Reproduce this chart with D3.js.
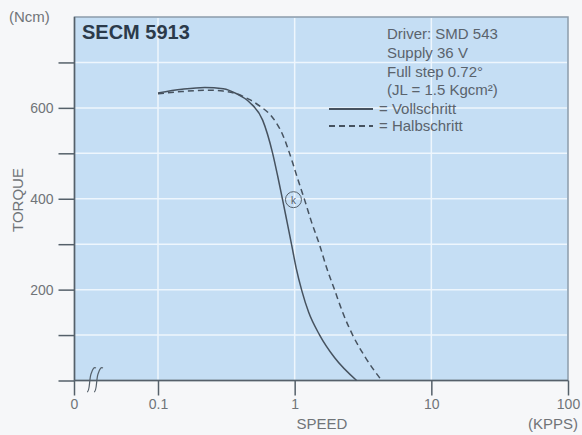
<!DOCTYPE html>
<html>
<head>
<meta charset="utf-8">
<script src="https://cdn.jsdelivr.net/npm/d3@7"></script>
<style>
  body { margin: 0; background: #f6f7f9; }
  svg { display: block; font-family: "Liberation Sans", Arial, sans-serif; }
  .axis text { fill: #707478; font-size: 14px; }
  .axis path, .axis line { stroke: #55606a; stroke-width: 1.5; }
  .grid line { stroke: #eef6fd; stroke-width: 1.5; }
  .info { fill: #5a636c; font-size: 15px; }
  .title { fill: #707478; font-size: 15px; }
</style>
</head>
<body>
<script>

// speed in KPPS, torque in Ncm
var vollSpeed  = [0.1, 0.15, 0.22, 0.3, 0.376, 0.469, 0.583, 0.690, 0.751, 0.817, 0.881, 0.951, 1.025, 1.125, 1.266, 1.523, 1.962, 2.84];
var vollTorque = [633, 641,  645,  642, 631,   612,   573,   500,   450,   397,   348,   298,   248,   199,   150,   100,   50,    0];

var halbSpeed  = [0.1, 0.15, 0.23, 0.3, 0.376, 0.469, 0.574, 0.667, 0.738, 0.817, 0.889, 0.967, 1.052, 1.184, 1.331, 1.523, 1.714, 1.962, 2.244, 2.657, 3.306, 4.33];
var halbTorque = [631, 636,  639,  637, 631,   618,   601,   584,   566,   541,   512,   479,   444,   397,   348,   298,   248,   199,   150,   100,   50,    0];

var speedTicks  = [0.1, 1, 10, 100];
var speedLabels = ["0.1", "1", "10", "100"];
var torqueTicks = [0, 100, 200, 300, 400, 500, 600, 700];
var torqueLabels = {200: "200", 400: "400", 600: "600"};

var infoLines = ["Driver: SMD 543", "Supply 36 V", "Full step 0.72\u00b0", "(JL = 1.5 Kgcm\u00b2)"];
var legendItems = [
  {name: "= Vollschritt", dash: null},
  {name: "= Halbschritt", dash: "6,4"}
];

var W = 582, H = 435;
var pLeft = 74.5, pRight = 568, pTop = 17, pBottom = 380.5;

var svg = d3.select("body").append("svg")
    .attr("width", W)
    .attr("height", H);

var x = d3.scaleLog()
    .domain([0.1, 100])
    .range([158, pRight]);

var y = d3.scaleLinear()
    .domain([0, 800])
    .range([pBottom, pTop]);

// plot background
svg.append("rect")
    .attr("x", pLeft)
    .attr("y", pTop)
    .attr("width", pRight - pLeft)
    .attr("height", pBottom - pTop)
    .attr("fill", "#c5def4")
    .attr("stroke", "#8c9cab")
    .attr("stroke-width", 1.5);

// grid
var grid = svg.append("g").attr("class", "grid");
grid.selectAll(".h")
    .data(torqueTicks.filter(function(d) { return d > 0; }))
  .enter().append("line")
    .attr("x1", pLeft + 1).attr("x2", pRight - 1)
    .attr("y1", function(d) { return y(d); })
    .attr("y2", function(d) { return y(d); });
grid.selectAll(".v")
    .data(speedTicks.slice(0, 3))
  .enter().append("line")
    .attr("y1", pTop + 1).attr("y2", pBottom - 1)
    .attr("x1", function(d) { return x(d); })
    .attr("x2", function(d) { return x(d); });

// axes
var yAxis = d3.axisLeft(y)
    .tickValues(torqueTicks)
    .tickSize(16)
    .tickPadding(5)
    .tickFormat(function(d) { return torqueLabels[d] || ""; });

svg.append("g")
    .attr("class", "axis")
    .attr("transform", "translate(" + pLeft + ",0)")
    .call(yAxis)
    .call(function(g) { g.select(".domain").remove(); });

svg.append("line")
    .attr("x1", pLeft).attr("x2", pLeft)
    .attr("y1", pTop).attr("y2", pBottom)
    .attr("stroke", "#55606a").attr("stroke-width", 1.5);

var xAxis = d3.axisBottom(x)
    .tickValues(speedTicks)
    .tickSize(15)
    .tickPadding(4)
    .tickFormat(function(d, i) { return speedLabels[i]; });

var xg = svg.append("g")
    .attr("class", "axis")
    .attr("transform", "translate(0," + pBottom + ")")
    .call(xAxis)
    .call(function(g) { g.select(".domain").remove(); });

svg.append("line")
    .attr("x1", pLeft).attr("x2", pRight)
    .attr("y1", pBottom).attr("y2", pBottom)
    .attr("stroke", "#55606a").attr("stroke-width", 1.5);

// the "0" tick left of the axis break
var zero = xg.append("g").attr("class", "tick")
    .attr("transform", "translate(" + pLeft + ",0)");
zero.append("line").attr("y2", 15);
zero.append("text").attr("y", 19).attr("dy", "0.71em")
    .attr("text-anchor", "middle").text("0");

// break marks
var brk = svg.append("g")
    .attr("fill", "none")
    .attr("stroke", "#55606a")
    .attr("stroke-width", 1.2);
[89, 96].forEach(function(bx) {
  brk.append("path")
    .attr("d", "M" + (bx - 2) + ",392 C" + (bx + 1) + ",392 " + bx + ",380 " + (bx + 2) + ",374 S" + (bx + 5) + ",367 " + (bx + 7) + ",368");
});

// axis titles
svg.append("text").attr("class", "title")
    .attr("x", 9).attr("y", 22)
    .text("(Ncm)");

svg.append("text").attr("class", "title")
    .attr("transform", "translate(23,200) rotate(-90)")
    .attr("text-anchor", "middle")
    .text("TORQUE");

svg.append("text").attr("class", "title")
    .attr("x", 322).attr("y", 429)
    .attr("text-anchor", "middle")
    .text("SPEED");

svg.append("text").attr("class", "title")
    .attr("x", 578).attr("y", 429)
    .attr("text-anchor", "end")
    .text("(KPPS)");

// curves
var line = d3.line()
    .x(function(d) { return x(d[0]); })
    .y(function(d) { return y(d[1]); })
    .curve(d3.curveMonotoneX);

svg.append("path")
    .datum(d3.zip(vollSpeed, vollTorque))
    .attr("fill", "none")
    .attr("stroke", "#46525f")
    .attr("stroke-width", 1.5)
    .attr("d", line);

svg.append("path")
    .datum(d3.zip(halbSpeed, halbTorque))
    .attr("fill", "none")
    .attr("stroke", "#46525f")
    .attr("stroke-width", 1.5)
    .attr("stroke-dasharray", "6,4")
    .attr("d", line);

// K marker
svg.append("circle")
    .attr("cx", x(0.98)).attr("cy", y(398))
    .attr("r", 8)
    .attr("fill", "none")
    .attr("stroke", "#55606a")
    .attr("stroke-width", 1);
svg.append("text")
    .attr("x", x(0.98)).attr("y", y(398) + 4)
    .attr("text-anchor", "middle")
    .attr("fill", "#55606a").style("font-size", "10px")
    .text("k");

// title
svg.append("text")
    .attr("x", 82).attr("y", 39)
    .attr("fill", "#2b3a4a")
    .style("font-size", "20px")
    .style("font-weight", "bold")
    .text("SECM 5913");

// info block
svg.selectAll(".info")
    .data(infoLines)
  .enter().append("text")
    .attr("class", "info")
    .attr("x", 387)
    .attr("y", function(d, i) { return 39 + i * 18.8; })
    .text(function(d) { return d; });

var leg = svg.selectAll(".leg")
    .data(legendItems)
  .enter().append("g")
    .attr("transform", function(d, i) { return "translate(0," + (114 + i * 17) + ")"; });
leg.append("line")
    .attr("x1", 329).attr("x2", 373)
    .attr("y1", -5).attr("y2", -5)
    .attr("stroke", "#46525f")
    .attr("stroke-width", 1.8)
    .attr("stroke-dasharray", function(d) { return d.dash; });
leg.append("text")
    .attr("class", "info")
    .attr("x", 379)
    .text(function(d) { return d.name; });

</script>
</body>
</html>
